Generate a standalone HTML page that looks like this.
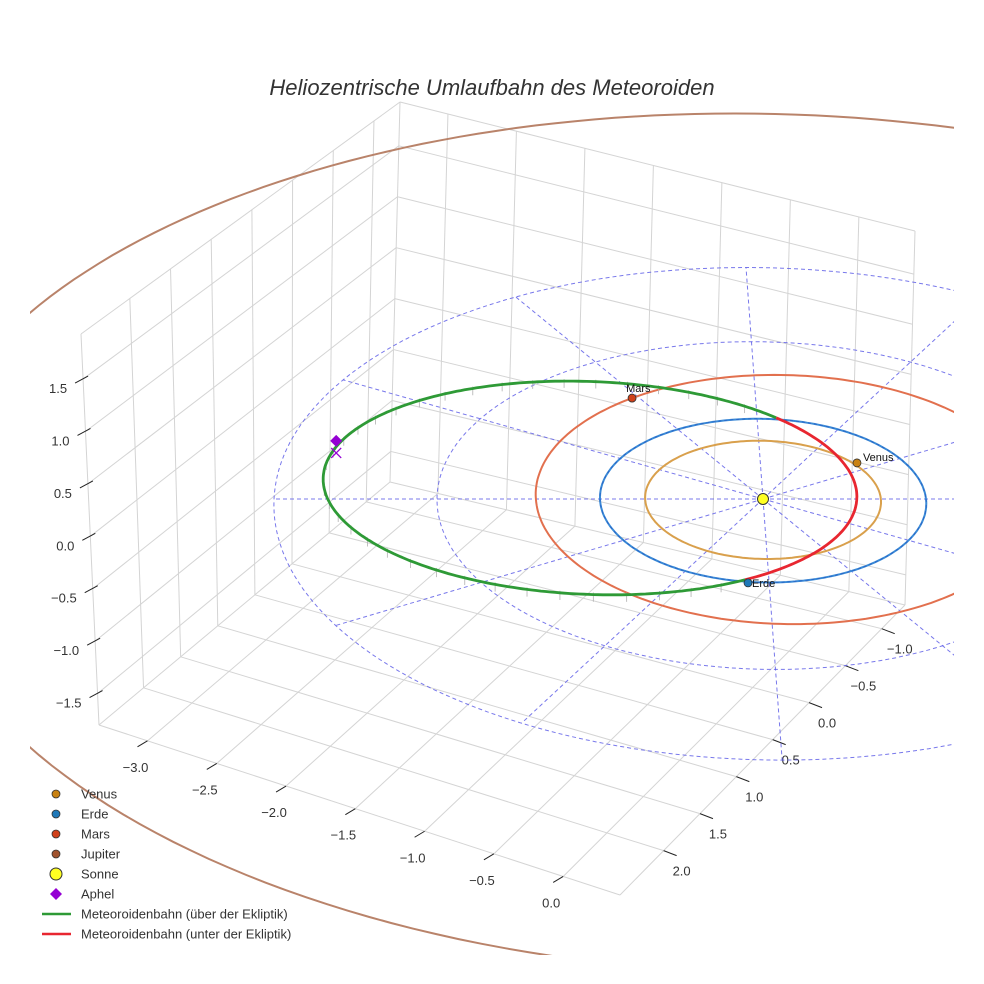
<!DOCTYPE html>
<html>
<head>
<meta charset="utf-8">
<style>
  html,body{margin:0;padding:0;background:#fff;}
  svg{display:block;font-family:"Liberation Sans",Arial,sans-serif;}
</style>
</head>
<body>
<svg id="chart" width="984" height="984" viewBox="0 0 984 984" xmlns="http://www.w3.org/2000/svg">
  <defs>
    <clipPath id="sceneClip"><rect x="30" y="0" width="924" height="955"/></clipPath>
  </defs>
  <rect x="0" y="0" width="984" height="984" fill="#fff"/>
  <g id="grid"></g>
  <g id="ticks"></g>
  <g id="data" clip-path="url(#sceneClip)"></g>
  <text x="492" y="95" text-anchor="middle" font-size="22" font-style="italic" fill="#333">Heliozentrische Umlaufbahn des Meteoroiden</text>
  <g id="legend"></g>
</svg>
<script>
// ---------- data ----------
const orbitNames = ['Venus', 'Erde', 'Mars', 'Jupiter'];
const orbitRadii = [0.723, 1.0, 1.524, 5.203];
const orbitCenterU = [0, 0, 0.13, 0];
const orbitCenterV = [0, 0, -0.04, 0];
const planetNames = ['Venus', 'Erde', 'Mars'];
const planetU = [0.598, -0.127, -0.777];
const planetV = [-0.445, 1.005, -1.265];
const gridRadii = [1, 2, 3];
const radialAnglesDeg = [0, 30, 60, 90, 120, 150, 180, 210, 240, 270, 300, 330];
const meteorCenter = [-1.06, -0.11];
const meteorAxes = [1.64, 1.30];
const meteorBelowDeg = [-44, 56];
const meteorZAmp = [0.075];
const aphelionPoint = [-2.62, -0.1, 0.5];
const aphelionProjection = [-2.62, -0.1, 0.38];
const xTicks = [-3.0, -2.5, -2.0, -1.5, -1.0, -0.5, 0.0];
const yTicks = [-1.0, -0.5, 0.0, 0.5, 1.0, 1.5, 2.0];
const zTicks = [-1.5, -1.0, -0.5, 0.0, 0.5, 1.0, 1.5];

// ---------- projection ----------
const NS = 'http://www.w3.org/2000/svg';
function proj(u, v, z) {
  const f = 1 - 0.02 * v;
  return [763 + (163 * u + 6 * v) / f, 499 + (81.8 * v - 100 * z) / f];
}
const B = {xmin: -3.35, xmax: 0.41, ymin: -1.32, ymax: 2.6, zmin: -1.8, zmax: 1.93};
const C = {
  p000: [390, 482], p100: [905, 605], p110: [620, 895], p010: [99, 725],
  p001: [400, 102], p101: [915, 231], p111: [610, 500], p011: [81, 334]
};
function lerp(a, b, t) { return [a[0] + (b[0] - a[0]) * t, a[1] + (b[1] - a[1]) * t]; }
function boxP(x, y, z) {
  const fx = (x - B.xmin) / (B.xmax - B.xmin);
  const fy = (y - B.ymin) / (B.ymax - B.ymin);
  const fz = (z - B.zmin) / (B.zmax - B.zmin);
  const b0 = lerp(lerp(C.p000, C.p100, fx), lerp(C.p010, C.p110, fx), fy);
  const b1 = lerp(lerp(C.p001, C.p101, fx), lerp(C.p011, C.p111, fx), fy);
  return lerp(b0, b1, fz);
}
function el(tag, parent, attrs) {
  const e = document.createElementNS(NS, tag);
  for (const k in attrs) e.setAttribute(k, attrs[k]);
  parent.appendChild(e);
  return e;
}
function pts(arr) { return arr.map(p => p[0].toFixed(1) + ',' + p[1].toFixed(1)).join(' '); }

const grid = document.getElementById('grid');
const ticks = document.getElementById('ticks');
const data = document.getElementById('data');
const legend = document.getElementById('legend');

function gline(a, b, name) {
  const l = el('line', grid, {x1: a[0], y1: a[1], x2: b[0], y2: b[1], stroke: '#d4d4d4', 'stroke-width': 1});
  
  
}

// ---------- grid ----------
xTicks.forEach(x => {
  gline(boxP(x, B.ymin, B.zmin), boxP(x, B.ymax, B.zmin), 'floor-gridline-x');
  gline(boxP(x, B.ymin, B.zmin), boxP(x, B.ymin, B.zmax), 'back-wall-gridline-x');
});
yTicks.forEach(y => {
  gline(boxP(B.xmin, y, B.zmin), boxP(B.xmax, y, B.zmin), 'floor-gridline-y');
  gline(boxP(B.xmin, y, B.zmin), boxP(B.xmin, y, B.zmax), 'left-wall-gridline-y');
});
zTicks.forEach(z => {
  gline(boxP(B.xmin, B.ymin, z), boxP(B.xmin, B.ymax, z), 'left-wall-gridline-z');
  gline(boxP(B.xmin, B.ymin, z), boxP(B.xmax, B.ymin, z), 'back-wall-gridline-z');
});
[[[B.xmin,B.ymin,B.zmin],[B.xmax,B.ymin,B.zmin]],[[B.xmin,B.ymin,B.zmin],[B.xmin,B.ymax,B.zmin]],
 [[B.xmax,B.ymin,B.zmin],[B.xmax,B.ymax,B.zmin]],[[B.xmin,B.ymax,B.zmin],[B.xmax,B.ymax,B.zmin]],
 [[B.xmin,B.ymin,B.zmin],[B.xmin,B.ymin,B.zmax]],[[B.xmax,B.ymin,B.zmin],[B.xmax,B.ymin,B.zmax]],
 [[B.xmin,B.ymax,B.zmin],[B.xmin,B.ymax,B.zmax]],[[B.xmin,B.ymin,B.zmax],[B.xmax,B.ymin,B.zmax]],
 [[B.xmin,B.ymin,B.zmax],[B.xmin,B.ymax,B.zmax]]].forEach(e => {
  gline(boxP(...e[0]), boxP(...e[1]), 'box-edge');
});

// ---------- ticks ----------
function fmt(v) { return (v < 0 ? '\u2212' : '') + Math.abs(v).toFixed(1); }
function tickMark(a, b, name) {
  const l = el('line', ticks, {x1: a[0], y1: a[1], x2: b[0], y2: b[1], stroke: '#222', 'stroke-width': 1});
  
  
}
function tickLabel(x, y, txt, anchor, name) {
  const t = el('text', ticks, {x: x, y: y, 'font-size': 13, fill: '#333', 'text-anchor': anchor});
  t.textContent = txt;
  
  
}
xTicks.forEach(x => {
  const e = boxP(x, B.ymax, B.zmin);
  tickMark([e[0], e[1]], [e[0] - 10, e[1] + 6], 'x-tick-mark');
  tickLabel(e[0] - 12, e[1] + 31, fmt(x), 'middle', 'x-tick-label');
});
yTicks.forEach(y => {
  const e = boxP(B.xmax, y, B.zmin);
  tickMark([e[0], e[1]], [e[0] + 13, e[1] + 5], 'y-tick-mark');
  tickLabel(e[0] + 18, e[1] + 25, fmt(y), 'middle', 'y-tick-label');
});
zTicks.forEach(z => {
  const e = boxP(B.xmin, B.ymax, z);
  tickMark([e[0] + 5, e[1] - 3], [e[0] - 8, e[1] + 4], 'z-tick-mark');
  tickLabel(e[0] - 16, e[1] + 14, fmt(z), 'end', 'z-tick-label');
});

// ---------- data ----------
const dashStyle = {fill: 'none', stroke: '#6060e8', 'stroke-width': 1, 'stroke-dasharray': '4,3', opacity: 0.85};
function ringPoints(cu, cv, r, z) {
  const out = [];
  for (let i = 0; i <= 240; i++) {
    const t = i / 240 * 2 * Math.PI;
    out.push(proj(cu + r * Math.cos(t), cv + r * Math.sin(t), z || 0));
  }
  return out;
}
gridRadii.forEach(r => {
  const p = el('polyline', data, Object.assign({points: pts(ringPoints(0, 0, r))}, dashStyle));
  
  
});
const rMax = gridRadii[gridRadii.length - 1];
radialAnglesDeg.forEach(a => {
  const t = a * Math.PI / 180;
  const p0 = proj(0, 0, 0);
  const p1 = proj(rMax * Math.cos(t), -rMax * Math.sin(t), 0);
  const l = el('line', data, Object.assign({x1: p0[0], y1: p0[1], x2: p1[0], y2: p1[1]}, dashStyle));
  
  
});

const orbitColors = ['#d9a04c', '#3a8ad6', '#e2704e', '#b9836a'];
orbitNames.forEach((n, i) => {
  const p = el('polyline', data, {points: pts(ringPoints(orbitCenterU[i], orbitCenterV[i], orbitRadii[i])),
    fill: 'none', stroke: orbitColors[i], 'stroke-width': 2});
  
  
});
{
  const p = el('polyline', data, {points: pts(ringPoints(0, 0, 1)), fill: 'none', stroke: '#2050c0', 'stroke-width': 1, 'stroke-dasharray': '3,3', opacity: 0.6});
  
  
}

function meteor(tDeg) {
  const t = tDeg * Math.PI / 180;
  const u = meteorCenter[0] + meteorAxes[0] * Math.cos(t);
  const v = meteorCenter[1] + meteorAxes[1] * Math.sin(t);
  const mid = (meteorBelowDeg[0] + meteorBelowDeg[1]) / 2;
  const half = (meteorBelowDeg[1] - meteorBelowDeg[0]) / 2;
  const z = meteorZAmp[0] * (Math.cos(half * Math.PI / 180) - Math.cos((tDeg - mid) * Math.PI / 180));
  return [u, v, z];
}
for (let t = meteorBelowDeg[1] + 6; t < 360 + meteorBelowDeg[0] - 2; t += 7) {
  const m = meteor(t);
  const a = proj(m[0], m[1], m[2] + 0.02);
  const b = proj(m[0], m[1], m[2] - 0.07);
  const l = el('line', data, {x1: a[0], y1: a[1], x2: b[0], y2: b[1], stroke: '#b0b0b0', 'stroke-width': 0.8});
  
  
}
{
  const g = [];
  for (let t = meteorBelowDeg[1]; t <= 360 + meteorBelowDeg[0]; t += 1) { const m = meteor(t); g.push(proj(m[0], m[1], m[2])); }
  const p = el('polyline', data, {points: pts(g), fill: 'none', stroke: '#2e9a36', 'stroke-width': 2.8});
  
  
  const r = [];
  for (let t = meteorBelowDeg[0]; t <= meteorBelowDeg[1]; t += 1) { const m = meteor(t); r.push(proj(m[0], m[1], m[2])); }
  const q = el('polyline', data, {points: pts(r), fill: 'none', stroke: '#e82630', 'stroke-width': 2.8});
  
  
}

const planetColors = ['#c98212', '#1f78b8', '#d0401a'];
const labelDx = [6, 4, -6];
const labelDy = [-2, 4, -6];
planetNames.forEach((n, i) => {
  const p = proj(planetU[i], planetV[i], 0);
  const c = el('circle', data, {cx: p[0], cy: p[1], r: 4, fill: planetColors[i], stroke: '#333', 'stroke-width': 0.8});
  
  
  const t = el('text', data, {x: p[0] + labelDx[i], y: p[1] + labelDy[i], 'font-size': 11, fill: '#111'});
  t.textContent = n;
  
  
});
{
  const s = proj(0, 0, 0);
  const c = el('circle', data, {cx: s[0], cy: s[1], r: 5.5, fill: '#ffff22', stroke: '#333', 'stroke-width': 1});
  
  
}
{
  const a = proj(aphelionPoint[0], aphelionPoint[1], aphelionPoint[2]);
  const d = el('polygon', data, {points: pts([[a[0], a[1] - 6], [a[0] + 6, a[1]], [a[0], a[1] + 6], [a[0] - 6, a[1]]]), fill: '#9400d3'});
  
  
  const b = proj(aphelionProjection[0], aphelionProjection[1], aphelionProjection[2]);
  const x = el('path', data, {d: `M${b[0]-5},${b[1]-5}L${b[0]+5},${b[1]+5}M${b[0]+5},${b[1]-5}L${b[0]-5},${b[1]+5}`, stroke: '#9400d3', 'stroke-width': 1.3, fill: 'none'});
  
  
}

// ---------- legend ----------
const legendLabels = ['Venus', 'Erde', 'Mars', 'Jupiter', 'Sonne', 'Aphel', 'Meteoroidenbahn (über der Ekliptik)', 'Meteoroidenbahn (unter der Ekliptik)'];
const legendColors = ['#c98212', '#1f78b8', '#d0401a', '#a0522d', '#ffff22', '#9400d3', '#2e9a36', '#e82630'];
const legendKinds = ['dot', 'dot', 'dot', 'dot', 'sun', 'diamond', 'line', 'line'];
legendLabels.forEach((lab, i) => {
  const y = 794 + i * 20;
  const g = el('g', legend, {});
  
  
  let m;
  if (legendKinds[i] === 'dot') m = el('circle', g, {cx: 56, cy: y, r: 4, fill: legendColors[i], stroke: '#333', 'stroke-width': 0.8});
  else if (legendKinds[i] === 'sun') m = el('circle', g, {cx: 56, cy: y, r: 6, fill: legendColors[i], stroke: '#333', 'stroke-width': 1});
  else if (legendKinds[i] === 'diamond') m = el('polygon', g, {points: `56,${y-6} 62,${y} 56,${y+6} 50,${y}`, fill: legendColors[i]});
  else m = el('line', g, {x1: 42, y1: y, x2: 71, y2: y, stroke: legendColors[i], 'stroke-width': 2.5});
  
  
  const t = el('text', g, {x: 81, y: y + 4.5, 'font-size': 13, fill: '#333'});
  t.textContent = lab;
  
  
});
</script>
</body>
</html>
